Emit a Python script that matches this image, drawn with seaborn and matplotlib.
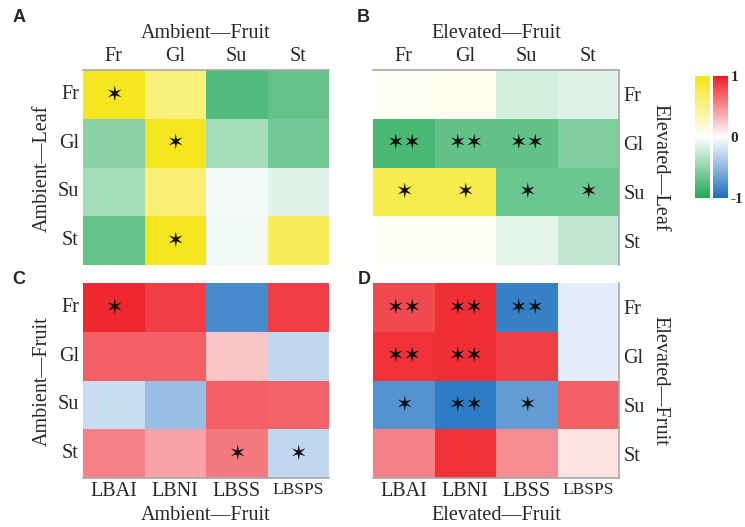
import numpy as np
import pandas as pd
import matplotlib
matplotlib.use("Agg")
import matplotlib.pyplot as plt
from matplotlib.colors import LinearSegmentedColormap, Normalize
from matplotlib.cm import ScalarMappable
import seaborn as sns

sns.set_theme(style="white")
plt.rcParams["font.family"] = ["Liberation Serif", "DejaVu Sans"]

# Sugar components (rows / top columns) and fruit traits (bottom columns)
sugars = ["Fr", "Gl", "Su", "St"]
traits = ["LBAI", "LBNI", "LBSS", "LBSPS"]

# Correlation coefficients, rows = leaf (A, B) or fruit (C, D) sugars
amb_leaf_fruit = [
    [0.95, 0.55, -0.78, -0.68],
    [-0.52, 0.95, -0.40, -0.62],
    [-0.40, 0.60, -0.04, -0.14],
    [-0.68, 0.95, -0.07, 0.70],
]
elev_leaf_fruit = [
    [0.05, 0.07, -0.20, -0.14],
    [-0.80, -0.70, -0.70, -0.57],
    [0.75, 0.75, -0.65, -0.65],
    [0.05, 0.06, -0.13, -0.28],
]
amb_fruit_traits = [
    [0.95, 0.85, -0.80, 0.85],
    [0.70, 0.70, 0.25, -0.28],
    [-0.24, -0.45, 0.70, 0.68],
    [0.55, 0.40, 0.58, -0.28],
]
elev_fruit_traits = [
    [0.80, 0.92, -0.88, -0.12],
    [0.90, 0.92, 0.85, -0.12],
    [-0.75, -0.92, -0.68, 0.70],
    [0.55, 0.90, 0.50, 0.12],
]

# Significance marks (0 = none, 1 = p<0.05, 2 = p<0.01)
amb_leaf_sig = [[1, 0, 0, 0], [0, 1, 0, 0], [0, 0, 0, 0], [0, 1, 0, 0]]
elev_leaf_sig = [[0, 0, 0, 0], [2, 2, 2, 0], [1, 1, 1, 1], [0, 0, 0, 0]]
amb_fruit_sig = [[1, 0, 0, 0], [0, 0, 0, 0], [0, 0, 0, 0], [0, 0, 1, 1]]
elev_fruit_sig = [[2, 2, 2, 0], [2, 2, 0, 0], [1, 2, 1, 0], [0, 0, 0, 0]]

cmap_gy = LinearSegmentedColormap.from_list(
    "gwy", ["#1fa855", "#ffffff", "#f6e514"])
cmap_br = LinearSegmentedColormap.from_list(
    "bwr2", ["#1b6fc0", "#ffffff", "#ee1c25"])

W, H = 745, 527
fig = plt.figure(figsize=(W / 100, H / 100), dpi=100)


def px_axes(x0, y0, x1, y1):
    return fig.add_axes([x0 / W, 1 - y1 / H, (x1 - x0) / W, (y1 - y0) / H])


star = "\u2736"
TF = 14.5


def panel(ax, vals, sig, rows, cols, cmap, top, right):
    df = pd.DataFrame(vals, index=rows, columns=cols)
    labels = np.array([[star * s for s in r] for r in sig])
    sns.heatmap(df, ax=ax, cmap=cmap, vmin=-1, vmax=1, cbar=False,
                annot=labels, fmt="",
                annot_kws=dict(color="#111111", fontsize=15,
                               family="DejaVu Sans"))
    ax.tick_params(length=0, labelsize=TF, pad=3)
    ax.set_xlabel("")
    ax.set_ylabel("")
    for s in ax.spines.values():
        s.set_visible(False)
    if top:
        ax.xaxis.tick_top()
        ax.spines["top"].set_visible(True)
    else:
        ax.spines["bottom"].set_visible(True)
    if right:
        ax.yaxis.tick_right()
        ax.spines["right"].set_visible(True)
    for s in ax.spines.values():
        s.set_color("#a8a8a8")
        s.set_linewidth(1.2)
    ax.set_yticklabels(rows, rotation=0)
    ax.set_xticklabels(cols, rotation=0)


axA = px_axes(83, 70, 329, 265)
panel(axA, amb_leaf_fruit, amb_leaf_sig, sugars, sugars, cmap_gy, True, False)
axB = px_axes(373, 70, 619, 265)
panel(axB, elev_leaf_fruit, elev_leaf_sig, sugars, sugars, cmap_gy, True, True)
axC = px_axes(83, 283, 329, 478)
panel(axC, amb_fruit_traits, amb_fruit_sig, sugars, traits, cmap_br, False, False)
axD = px_axes(373, 283, 619, 478)
panel(axD, elev_fruit_traits, elev_fruit_sig, sugars, traits, cmap_br, False, True)

for ax in (axC, axD):
    ax.get_xticklabels()[-1].set_fontsize(12.5)

# Axis titles
fig.text(206 / W, 1 - 33 / H, "Ambient\u2014Fruit", ha="center", va="center", fontsize=TF)
fig.text(496 / W, 1 - 33 / H, "Elevated\u2014Fruit", ha="center", va="center", fontsize=TF)
fig.text(206 / W, 1 - 515 / H, "Ambient\u2014Fruit", ha="center", va="center", fontsize=TF)
fig.text(496 / W, 1 - 515 / H, "Elevated\u2014Fruit", ha="center", va="center", fontsize=TF)
fig.text(42 / W, 1 - 168 / H, "Ambient\u2014Leaf", ha="center", va="center", fontsize=TF, rotation=90)
fig.text(42 / W, 1 - 381 / H, "Ambient\u2014Fruit", ha="center", va="center", fontsize=TF, rotation=90)
fig.text(660 / W, 1 - 168 / H, "Elevated\u2014Leaf", ha="center", va="center", fontsize=TF, rotation=270)
fig.text(660 / W, 1 - 381 / H, "Elevated\u2014Fruit", ha="center", va="center", fontsize=TF, rotation=270)

# Panel letters
for lab, x, y in [("A", 19, 18), ("B", 363, 18), ("C", 19, 279), ("D", 364, 279)]:
    fig.text(x / W, 1 - y / H, lab, ha="center", va="center", fontsize=13,
             fontweight="bold", family="Liberation Sans")

# Colour scales
norm = Normalize(vmin=-1, vmax=1)
cax1 = px_axes(695, 76, 710, 198)
cb1 = fig.colorbar(ScalarMappable(norm=norm, cmap=cmap_gy), cax=cax1)
cb1.set_ticks([])
cb1.outline.set_visible(False)
cax2 = px_axes(713, 76, 728, 198)
cb2 = fig.colorbar(ScalarMappable(norm=norm, cmap=cmap_br), cax=cax2)
cb2.set_ticks([-1, 0, 1])
cb2.set_ticklabels(["-1", "0", "1"])
cb2.ax.tick_params(length=0, labelsize=11, pad=2)
for t in cb2.ax.get_yticklabels():
    t.set_fontweight("bold")
cb2.outline.set_visible(False)

fig.savefig("out.png", dpi=100)
